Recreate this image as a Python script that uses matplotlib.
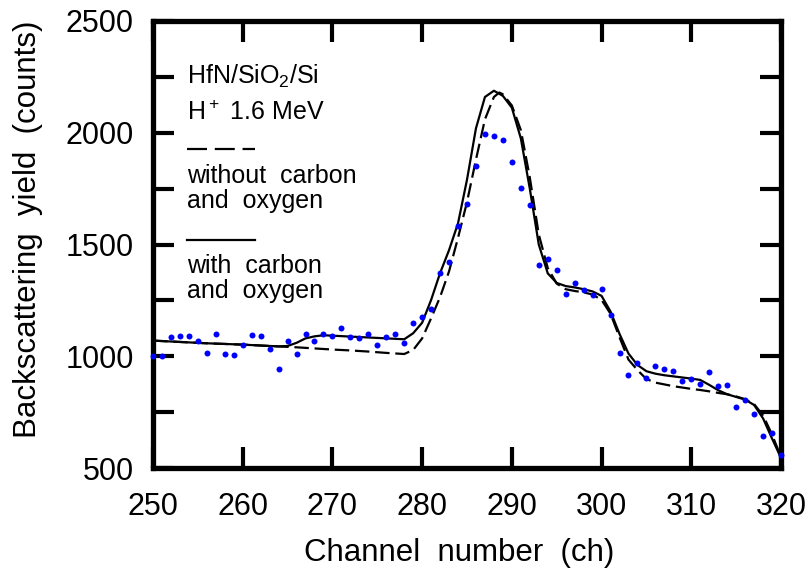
import matplotlib
matplotlib.use("Agg")
import matplotlib.pyplot as plt

plt.rcParams['font.family'] = ['Liberation Sans', 'DejaVu Sans']
plt.rcParams['mathtext.fontset'] = 'custom'
plt.rcParams['mathtext.rm'] = 'Liberation Sans'

# measured spectrum (blue dots), one per channel 250..320
channels = list(range(250, 321))
measured = [1002, 1002, 1084, 1092, 1092, 1070, 1014, 1098, 1011, 1007,
            1050, 1093, 1092, 1032, 942, 1066, 1008, 1099, 1066, 1101,
            1092, 1125, 1086, 1080, 1098, 1050, 1087, 1099, 1059, 1149,
            1176, 1212, 1372, 1422, 1583, 1681, 1850, 1993, 1986, 1969,
            1868, 1754, 1675, 1409, 1437, 1388, 1280, 1328, 1295, 1274,
            1303, 1185, 1013, 918, 968, 904, 956, 941, 934, 889,
            896, 877, 929, 866, 871, 774, 804, 742, 645, 658,
            560]

# simulation with carbon and oxygen (solid)
with_ch = [250, 252, 254, 256, 258, 260, 262, 264, 265, 266, 267, 268, 269, 270,
           272, 274, 276, 278, 279, 280, 281, 282, 283, 284, 285, 286, 287,
           288, 289, 290, 291, 292, 293, 294, 295, 296, 297, 298, 299, 300,
           301, 302, 303, 304, 305, 306, 307, 308, 309, 310, 311, 312, 313,
           314, 315, 316, 317, 318, 319, 320]
with_co = [1070, 1066, 1062, 1058, 1055, 1052, 1048, 1044, 1046, 1060, 1080, 1089, 1094, 1092,
           1088, 1084, 1080, 1076, 1103, 1150, 1252, 1372, 1475, 1595, 1790, 2020, 2160,
           2188, 2165, 2112, 1975, 1750, 1500, 1371, 1328, 1314, 1308, 1300, 1290, 1270,
           1200, 1100, 1012, 961, 933, 922, 915, 910, 905, 900, 894, 872, 848,
           830, 818, 806, 782, 722, 632, 545]

# simulation without carbon and oxygen (dashed)
without_ch = [250, 252, 254, 256, 258, 260, 262, 264, 266, 268, 270, 272, 274, 276,
              278, 279, 280, 281, 282, 283, 284, 285, 286, 287, 288, 288.6, 289,
              290, 291, 292, 293, 294, 295, 296, 297, 298, 299, 300, 301, 302,
              303, 304, 305, 306, 307, 308, 309, 310, 311, 312, 313, 314, 315,
              316, 317, 318, 319, 320]
without_co = [1070, 1066, 1062, 1058, 1055, 1052, 1048, 1044, 1040, 1035, 1030, 1026, 1021, 1015,
              1010, 1028, 1080, 1170, 1265, 1380, 1530, 1690, 1880, 2060, 2160, 2180, 2172,
              2122, 2012, 1800, 1545, 1395, 1325, 1300, 1292, 1286, 1276, 1252, 1190, 1085,
              985, 938, 898, 882, 874, 866, 860, 854, 849, 843, 836, 830, 820,
              808, 786, 735, 650, 548]

L, R, T, B = 153, 781, 21, 468
fig = plt.figure(figsize=(8.07, 5.74), dpi=100)
ax = fig.add_axes([L / 807, 1 - B / 574, (R - L) / 807, (B - T) / 574])

dash = (0, (6.5, 2.6))
ax.plot(without_ch, without_co, color='black', lw=1.6, linestyle=dash)
ax.plot(with_ch, with_co, color='black', lw=1.6)
ax.plot(channels, measured, linestyle='none', marker='o', markersize=4.3,
        color='#0000ff', markeredgewidth=0, clip_on=False, zorder=3)

ax.set_xlim(250, 320)
ax.set_ylim(500, 2500)
ax.set_xticks(range(250, 321, 10))
ax.set_yticks(range(500, 2501, 250))
ax.set_yticklabels([str(v) if v % 500 == 0 else '' for v in range(500, 2501, 250)])

for s in ax.spines.values():
    s.set_linewidth(3.8)
ax.tick_params(which='major', direction='in', length=15, width=3,
               top=True, right=True, labelsize=22)
ax.tick_params(axis='x', pad=17)
ax.tick_params(axis='y', pad=14)

ax.set_xlabel('Channel  number  (ch)', fontsize=22.5, labelpad=12)
ax.set_ylabel('Backscattering  yield  (counts)', fontsize=22.5, labelpad=16)
ax.xaxis.label.set_x(0.487)
ax.yaxis.label.set_y(0.535)

# legend-like annotation placed in axes fraction
fs = 18
tr = ax.transAxes
def px(x, y):
    return (x - L) / (R - L), (B - y) / (B - T)

ax.text(*px(187, 84), r'HfN/SiO$\mathregular{_2}$/Si', transform=tr, fontsize=fs, va='baseline')
ax.text(*px(187, 120), r'H$\mathregular{^+}$ 1.6 MeV', transform=tr, fontsize=fs, va='baseline')
ax.plot([px(187, 149)[0], px(255, 149)[0]], [px(187, 149)[1]] * 2, transform=tr,
        color='black', lw=1.6, linestyle=(0, (9.0, 3.5)))
ax.text(*px(187, 183), 'without  carbon', transform=tr, fontsize=fs, va='baseline')
ax.text(*px(187, 208), 'and  oxygen', transform=tr, fontsize=fs, va='baseline')
ax.plot([px(187, 240)[0], px(255, 240)[0]], [px(187, 240)[1]] * 2, transform=tr,
        color='black', lw=1.6)
ax.text(*px(187, 273), 'with  carbon', transform=tr, fontsize=fs, va='baseline')
ax.text(*px(187, 298), 'and  oxygen', transform=tr, fontsize=fs, va='baseline')

fig.savefig('out.png', dpi=100)
